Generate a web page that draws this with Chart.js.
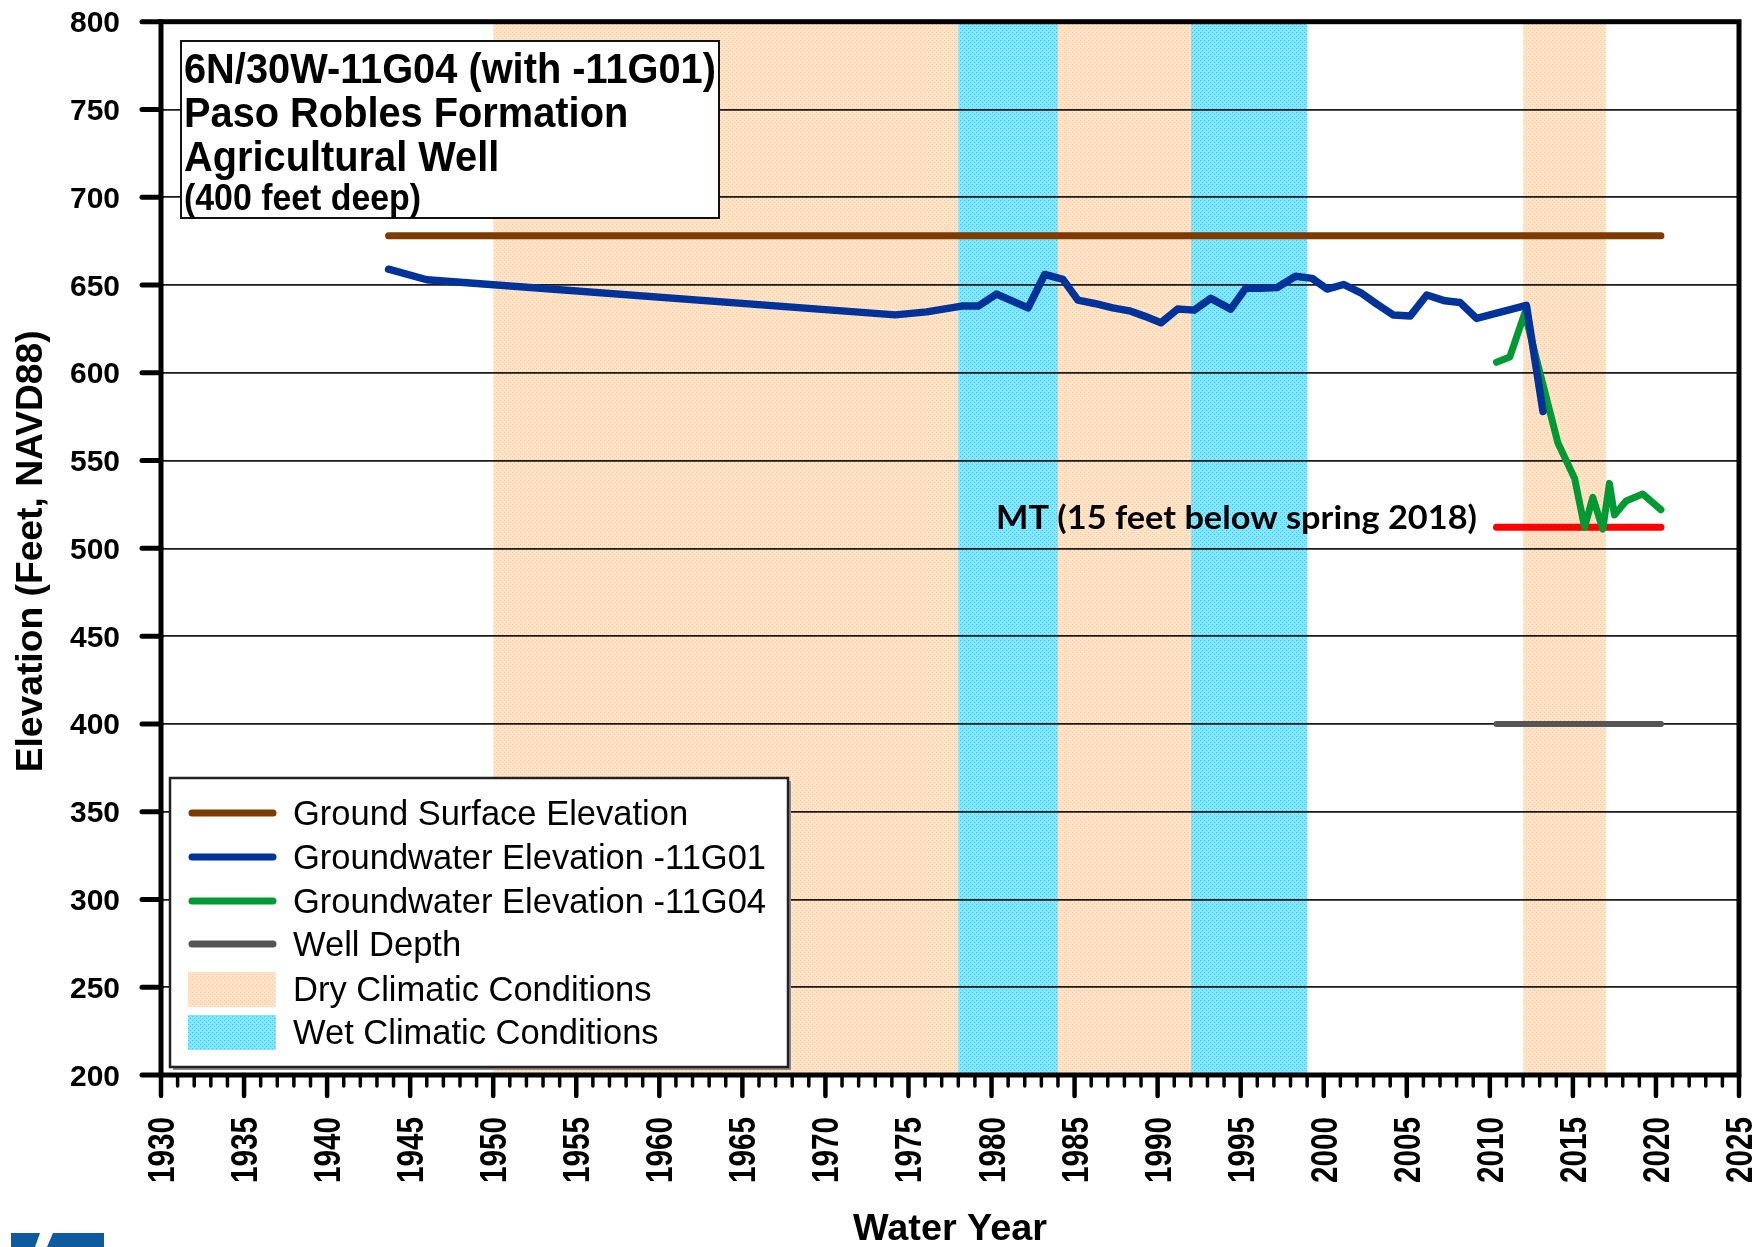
<!DOCTYPE html>
<html>
<head>
<meta charset="utf-8">
<script src="https://cdn.jsdelivr.net/npm/chart.js@4/dist/chart.umd.min.js"></script>
<style>
  html, body { margin: 0; padding: 0; background: #ffffff; }
  canvas { display: block; }
</style>
</head>
<body>
<canvas id="hydro" width="1764" height="1247"></canvas>
<script>
// Groundwater elevation record, well 6N/30W-11G01 (water year, feet NAVD88)
const g01Years = [1943.7, 1946.0, 1974.2, 1976.1, 1978.2, 1979.2, 1980.3, 1982.2, 1983.2, 1984.3,
                  1985.2, 1986.2, 1987.3, 1988.3, 1989.2, 1990.2, 1991.2, 1992.2, 1993.2, 1994.4,
                  1995.3, 1996.2, 1997.2, 1998.3, 1999.3, 2000.2, 2001.2, 2002.3, 2003.2, 2004.2,
                  2005.2, 2006.2, 2007.3, 2008.2, 2009.2, 2012.2, 2013.2];
const g01Elev  = [659, 653, 633, 634.7, 638, 638, 644.8, 637, 656, 653.2,
                  641.4, 639.5, 637, 635.3, 632.3, 628.5, 636.3, 635.7, 642.4, 636.3,
                  648.1, 648.1, 648.6, 655, 653.8, 647.7, 650.3, 645.2, 639.1, 632.9,
                  632.3, 644.3, 641, 640.1, 631, 638.4, 578];

// Groundwater elevation record, well 6N/30W-11G04
const g04Years = [2010.4, 2011.2, 2012.1, 2014.1, 2015.1, 2015.7, 2016.2, 2016.8, 2017.2, 2017.5, 2018.2, 2019.2, 2020.3];
const g04Elev  = [606, 609, 634, 560, 540, 512, 529, 511, 537, 519, 527, 531, 522];

// Reference levels
const groundYears = [1943.7, 2020.3];
const groundElev  = [678, 678];
const wellDepthYears = [2010.4, 2020.3];
const wellDepthElev  = [400, 400];
const mtYears = [2010.4, 2020.3];
const mtElev  = [512, 512];

// Climatic periods (water years)
const dryStart = [1950, 1984, 2012];
const dryEnd   = [1978, 1992, 2017];
const wetStart = [1978, 1992];
const wetEnd   = [1984, 1999];

// Axis ticks
const yearTicks = [1930, 1935, 1940, 1945, 1950, 1955, 1960, 1965, 1970, 1975, 1980, 1985, 1990, 1995, 2000, 2005, 2010, 2015, 2020, 2025];
const elevTicks = [200, 250, 300, 350, 400, 450, 500, 550, 600, 650, 700, 750, 800];

const titleLines = ['6N/30W-11G04 (with -11G01)', 'Paso Robles Formation', 'Agricultural Well', '(400 feet deep)'];
const mtLabel = 'MT (15 feet below spring 2018)';

const legendItems = [
  { label: 'Ground Surface Elevation', kind: 'line', color: '#7d3b00' },
  { label: 'Groundwater Elevation -11G01', kind: 'line', color: '#003399' },
  { label: 'Groundwater Elevation -11G04', kind: 'line', color: '#009933' },
  { label: 'Well Depth', kind: 'line', color: '#555555' },
  { label: 'Dry Climatic Conditions', kind: 'dry' },
  { label: 'Wet Climatic Conditions', kind: 'wet' }
];

function pts(xs, ys) { return xs.map((x, i) => ({ x: x, y: ys[i] })); }

const canvas = document.getElementById('hydro');
const ctx = canvas.getContext('2d');

function dotPattern(base, dot) {
  const c = document.createElement('canvas');
  c.width = 4; c.height = 4;
  const g = c.getContext('2d');
  g.fillStyle = base; g.fillRect(0, 0, 4, 4);
  g.fillStyle = dot; g.fillRect(0, 0, 1, 1); g.fillRect(2, 2, 1, 1);
  return ctx.createPattern(c, 'repeat');
}
const dryFill = dotPattern('#ffe4cb', '#ffcc99');
const wetFill = dotPattern('#86e6ff', '#3fc6ee');

// Draw text squeezed/stretched horizontally to a given advance width
function fitText(c, text, x, y, font, width, align) {
  c.save();
  c.font = font;
  const w = c.measureText(text).width;
  c.translate(x, y);
  c.scale(width / w, 1);
  c.textAlign = align;
  c.textBaseline = 'alphabetic';
  c.fillText(text, 0, 0);
  c.restore();
}
function scaledText(c, text, x, y, font, sx, align) {
  c.save();
  c.font = font;
  c.translate(x, y);
  c.scale(sx, 1);
  c.textAlign = align;
  c.textBaseline = 'alphabetic';
  c.fillText(text, 0, 0);
  c.restore();
}

const bandsPlugin = {
  id: 'bands',
  beforeDraw(chart) {
    const c = chart.ctx, a = chart.chartArea, xs = chart.scales.x;
    c.save();
    c.fillStyle = '#ffffff';
    c.fillRect(0, 0, chart.width, chart.height);
    dryStart.forEach((s, i) => {
      const x0 = xs.getPixelForValue(s), x1 = xs.getPixelForValue(dryEnd[i]);
      c.fillStyle = dryFill;
      c.fillRect(x0, a.top, x1 - x0, a.bottom - a.top);
    });
    wetStart.forEach((s, i) => {
      const x0 = xs.getPixelForValue(s), x1 = xs.getPixelForValue(wetEnd[i]);
      c.fillStyle = wetFill;
      c.fillRect(x0, a.top, x1 - x0, a.bottom - a.top);
    });
    c.restore();
  }
};

const decorPlugin = {
  id: 'decor',
  afterDraw(chart) {
    const c = chart.ctx, a = chart.chartArea, xs = chart.scales.x, ys = chart.scales.y;
    c.save();
    c.strokeStyle = '#000000';
    c.fillStyle = '#000000';

    // Frame
    c.lineWidth = 5;
    c.lineJoin = 'miter';
    c.strokeRect(a.left, a.top, a.right - a.left, a.bottom - a.top);

    // Y ticks and labels
    c.lineCap = 'round';
    elevTicks.forEach(v => {
      const y = ys.getPixelForValue(v);
      c.lineWidth = 5;
      c.beginPath(); c.moveTo(a.left - 19, y); c.lineTo(a.left, y); c.stroke();
      scaledText(c, String(v), a.left - 41, y + 10.5, 'bold 30px "Liberation Sans", Arial, sans-serif', 1, 'right');
    });

    // X minor / major ticks
    for (let yr = 1930; yr <= 2025; yr++) {
      const x = xs.getPixelForValue(yr);
      const major = yr % 5 === 0;
      c.lineWidth = major ? 4.5 : 3.5;
      c.beginPath(); c.moveTo(x, a.bottom); c.lineTo(x, a.bottom + (major ? 21 : 11)); c.stroke();
    }
    // X labels, rotated
    yearTicks.forEach(yr => {
      const x = xs.getPixelForValue(yr);
      c.save();
      c.translate(x + 13, a.bottom + 42);
      c.rotate(-Math.PI / 2);
      fitText(c, String(yr), 0, 0, 'bold 36px "Liberation Sans", Arial, sans-serif', 66, 'right');
      c.restore();
    });

    // Axis titles
    fitText(c, 'Water Year', (a.left + a.right) / 2, 1240, 'bold 36px "Liberation Sans", Arial, sans-serif', 194, 'center');
    c.save();
    c.translate(42, (a.top + a.bottom) / 2 + 3);
    c.rotate(-Math.PI / 2);
    fitText(c, 'Elevation (Feet, NAVD88)', 0, 0, 'bold 37px "Liberation Sans", Arial, sans-serif', 442, 'center');
    c.restore();

    // Well title box
    c.fillStyle = '#ffffff';
    c.fillRect(181, 41, 538, 177);
    c.lineWidth = 2;
    c.strokeStyle = '#111111';
    c.strokeRect(181, 41, 538, 177);
    c.fillStyle = '#000000';
    const tf = 'bold 43px "Liberation Sans", Arial, sans-serif';
    scaledText(c, titleLines[0], 184, 83, tf, 0.925, 'left');
    scaledText(c, titleLines[1], 184, 127, tf, 0.925, 'left');
    scaledText(c, titleLines[2], 184, 171, tf, 0.925, 'left');
    scaledText(c, titleLines[3], 184, 210, 'bold 36px "Liberation Sans", Arial, sans-serif', 0.94, 'left');

    // Minimum threshold label
    fitText(c, mtLabel, 996, 529, 'bold 32px Lato, "Open Sans", sans-serif', 481, 'left');

    // Legend
    const lx = 170, ly = 778, lw = 618, lh = 289;
    c.fillStyle = '#8a8a8a';
    c.fillRect(lx + 3, ly + 3, lw, lh);
    c.fillStyle = '#ffffff';
    c.fillRect(lx, ly, lw, lh);
    c.lineWidth = 2.5;
    c.strokeStyle = '#222222';
    c.strokeRect(lx, ly, lw, lh);
    const rowY = [813, 857, 901, 944, 989, 1032];
    legendItems.forEach((it, i) => {
      const y = rowY[i];
      if (it.kind === 'line') {
        c.strokeStyle = it.color;
        c.lineWidth = 7;
        c.lineCap = 'round';
        c.beginPath(); c.moveTo(192, y); c.lineTo(273, y); c.stroke();
      } else {
        c.fillStyle = it.kind === 'dry' ? dryFill : wetFill;
        c.fillRect(188, y - 17, 88, 35);
      }
      c.fillStyle = '#000000';
      scaledText(c, it.label, 293, y + 12, '34.5px "Liberation Sans", Arial, sans-serif', 1, 'left');
    });

    // Corner logo fragment
    c.fillStyle = '#0e5a9e';
    c.fillRect(11, 1233, 93, 14);
    c.fillStyle = '#ffffff';
    c.beginPath();
    c.moveTo(40, 1233); c.lineTo(53, 1233); c.lineTo(47, 1247); c.lineTo(35, 1247); c.closePath();
    c.fill();

    c.restore();
  }
};

const lineStyle = { pointRadius: 0, borderCapStyle: 'round', borderJoinStyle: 'round', tension: 0, fill: false };

new Chart(ctx, {
  type: 'line',
  data: {
    datasets: [
      Object.assign({ label: 'Groundwater Elevation -11G01', data: pts(g01Years, g01Elev), borderColor: '#003399', borderWidth: 7.5, order: 1 }, lineStyle),
      Object.assign({ label: 'Groundwater Elevation -11G04', data: pts(g04Years, g04Elev), borderColor: '#009933', borderWidth: 7, order: 2 }, lineStyle),
      Object.assign({ label: 'MT', data: pts(mtYears, mtElev), borderColor: '#ff0000', borderWidth: 7, order: 3 }, lineStyle),
      Object.assign({ label: 'Well Depth', data: pts(wellDepthYears, wellDepthElev), borderColor: '#555555', borderWidth: 6, order: 4 }, lineStyle),
      Object.assign({ label: 'Ground Surface Elevation', data: pts(groundYears, groundElev), borderColor: '#7d3b00', borderWidth: 7, order: 5 }, lineStyle)
    ]
  },
  options: {
    responsive: false,
    animation: false,
    devicePixelRatio: 1,
    layout: { padding: { left: 161, right: 25, top: 21.7, bottom: 172 } },
    plugins: { legend: { display: false }, tooltip: { enabled: false } },
    scales: {
      x: {
        type: 'linear', min: 1930, max: 2025,
        ticks: { display: false, stepSize: 5 },
        grid: { display: false, drawTicks: false },
        border: { display: false }
      },
      y: {
        type: 'linear', min: 200, max: 800,
        ticks: { display: false, stepSize: 50 },
        grid: { color: '#1a1a1a', lineWidth: 1.7, drawTicks: false },
        border: { display: false }
      }
    }
  },
  plugins: [bandsPlugin, decorPlugin]
});
</script>
</body>
</html>
